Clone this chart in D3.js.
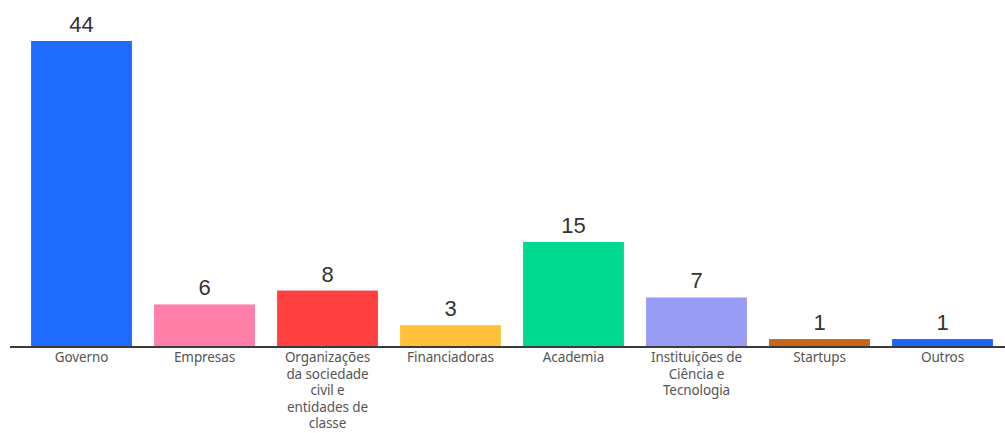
<!DOCTYPE html>
<html>
<head>
<meta charset="utf-8">
<script src="https://cdn.jsdelivr.net/npm/d3@7"></script>
<style>
  html, body { margin: 0; padding: 0; background: #fff; }
  svg { display: block; }
</style>
</head>
<body>
<svg id="chart" width="1005" height="433"></svg>
<script>
// Categories (with their wrapped label lines), counts and bar colours
const categories = ["Governo", "Empresas", "Organizações", "Financiadoras", "Academia", "Instituições", "Startups", "Outros"];
const labelLines = [
  ["Governo"],
  ["Empresas"],
  ["Organizações", "da sociedade", "civil e", "entidades de", "classe"],
  ["Financiadoras"],
  ["Academia"],
  ["Instituições de", "Ciência e", "Tecnologia"],
  ["Startups"],
  ["Outros"]
];
const values = [44, 6, 8, 3, 15, 7, 1, 1];
const colors = ["#1F6BFF", "#FF7FA9", "#FF4040", "#FFC23B", "#00D990", "#999CF4", "#C4671A", "#1B64F2"];

const svg = d3.select("#chart");
const baseY = 346;

const x = d3.scaleBand()
  .domain(categories)
  .range([20, 1004])
  .paddingInner(0.18)
  .paddingOuter(0.09);

const y = d3.scaleLinear()
  .domain([0, 44])
  .range([baseY, 41]);

const data = categories.map((c, i) => ({ c, v: values[i], color: colors[i], lines: labelLines[i] }));

// Bars
svg.selectAll("rect.bar")
  .data(data)
  .join("rect")
  .attr("class", "bar")
  .attr("x", d => x(d.c))
  .attr("width", x.bandwidth())
  .attr("y", d => y(d.v))
  .attr("height", d => baseY - y(d.v))
  .attr("fill", d => d.color);

// Value labels above bars
svg.selectAll("text.value")
  .data(data)
  .join("text")
  .attr("class", "value")
  .attr("x", d => x(d.c) + x.bandwidth() / 2)
  .attr("y", d => y(d.v) - 9)
  .attr("text-anchor", "middle")
  .attr("font-family", "'Liberation Sans', Arial, sans-serif")
  .attr("font-size", 22)
  .attr("fill", "#333")
  .text(d => d.v);

// Baseline
svg.append("line")
  .attr("x1", 10).attr("x2", 1005)
  .attr("y1", baseY + 1).attr("y2", baseY + 1)
  .attr("stroke", "#3a3a3a")
  .attr("stroke-width", 2);

// Category labels, wrapped over several lines
const cat = svg.selectAll("text.cat")
  .data(data)
  .join("text")
  .attr("class", "cat")
  .attr("text-anchor", "middle")
  .attr("font-family", "'Noto Sans', sans-serif")
  .attr("font-size", 13.5)
  .attr("letter-spacing", "-0.1")
  .attr("fill", "#555");

cat.selectAll("tspan")
  .data(d => d.lines.map(l => ({ l, cx: x(d.c) + x.bandwidth() / 2 })))
  .join("tspan")
  .attr("x", d => d.cx)
  .attr("y", (d, i) => 362 + i * 16.5)
  .text(d => d.l);
</script>
</body>
</html>
